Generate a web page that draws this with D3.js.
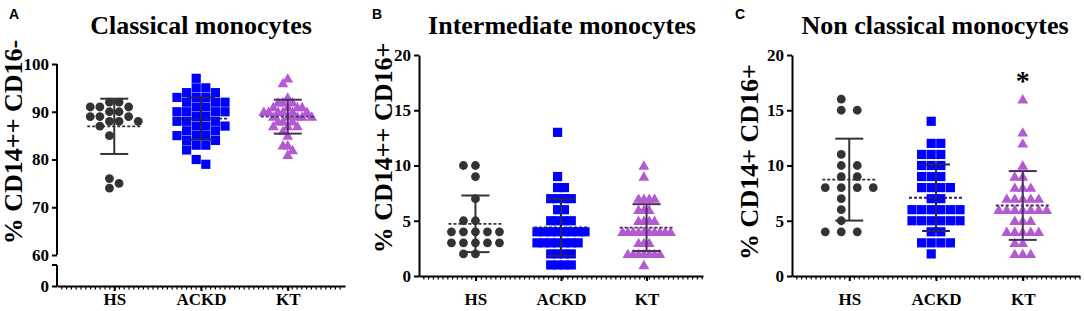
<!DOCTYPE html>
<html>
<head>
<meta charset="utf-8">
<script src="https://cdn.jsdelivr.net/npm/d3@7"></script>
<style>
  body { margin: 0; background: #fff; }
  svg { display: block; }
  text { font-family: "Liberation Serif", "DejaVu Serif", "Noto Serif", "Times New Roman", Times, serif; font-weight: bold; fill: #000; }
  text.letter { font-family: "Liberation Sans", Arial, sans-serif; }
</style>
</head>
<body>
<div id="chart"></div>
<script>
// groups along the x axis
const categories = ["HS", "ACKD", "KT"];

// A - classical monocytes, % CD14++ CD16-
const classicalHS = [92, 92, 91, 91, 91, 90, 90, 89, 89, 89, 88, 88, 88, 87, 85, 76, 75, 74];
const classicalACKD = [97, 95, 95, 94, 94, 93, 93, 93, 92, 92, 92, 91, 91, 90, 90, 90, 90, 89, 89,
  88, 88, 88, 87, 87, 87, 86, 86, 85, 85, 85, 84, 84, 83, 83, 82, 80, 79];
const classicalKT = [97, 96, 93, 92, 92, 92, 91, 91, 91, 91, 90, 90, 90, 90, 90, 90, 89, 89, 89, 89, 89,
  88, 88, 88, 87, 87, 87, 86, 85, 83, 83, 82, 81];

// B - intermediate monocytes, % CD14++ CD16+
const intermediateHS = [10, 10, 9, 7, 5, 5, 4, 4, 4, 4, 4, 3, 3, 3, 3, 3, 2, 2];
const intermediateACKD = [13, 9, 8, 8, 7, 7, 7, 7, 6, 6, 5, 5, 5, 5, 4, 4, 4, 4, 4, 4, 4, 4,
  3, 3, 3, 3, 3, 3, 3, 2, 2, 2, 2, 1, 1, 1, 1];
const intermediateKT = [10, 9, 7, 7, 7, 7, 6, 6, 6, 5, 5, 5, 5, 4, 4, 4, 4, 4, 4, 4, 4, 4, 4,
  3, 3, 3, 2, 2, 2, 2, 2, 2, 2, 1];

// C - non classical monocytes, % CD14+ CD16+
const nonClassicalHS = [16, 15, 15, 11, 10, 10, 9, 9, 8, 8, 8, 8, 7, 6, 5, 4, 4, 4];
const nonClassicalACKD = [14, 12, 12, 11, 11, 11, 10, 10, 10, 9, 9, 9, 8, 8, 8, 8, 7, 7,
  6, 6, 6, 6, 6, 6, 5, 5, 5, 5, 5, 5, 4, 4, 3, 3, 3, 3, 2];
const nonClassicalKT = [16, 13, 12, 10, 9, 9, 8, 8, 8, 7, 7, 7, 7, 7, 6, 6, 6, 6, 6, 6, 6,
  5, 5, 5, 4, 4, 4, 4, 4, 3, 3, 2, 2, 2];

// significance marks per group (panel C only)
const nonClassicalStars = ["", "", "*"];
const starLevel = 18;

// text
const panelLetters = ["A", "B", "C"];
const panelTitles = ["Classical monocytes", "Intermediate monocytes", "Non classical monocytes"];
const yLabels = ["% CD14++ CD16-", "% CD14++ CD16+", "% CD14+ CD16+"];
const ticksClassical = [0, 60, 70, 80, 90, 100];
const ticksSmall = [0, 5, 10, 15, 20];

const W = 1084, H = 311;
const serif = '"Liberation Serif", "DejaVu Serif", "Noto Serif", "Times New Roman", Times, serif';

// look of each group
const groupStyle = [
  {shape: "circle", fill: "#333333", bar: "#333333"},
  {shape: "square", fill: "#0000ff", bar: "#22226e"},
  {shape: "triangle", fill: "#b35ad3", bar: "#4d2c62"}
];

const panels = [
  {letter: panelLetters[0], title: panelTitles[0], ylabel: yLabels[0], groups: [classicalHS, classicalACKD, classicalKT],
   ticks: ticksClassical, domain: [0, 60, 100], range: [286, 255, 64], broken: true, stars: null,
   x0: 57, x1: 345, titleX: 201, labelX: 22, labelY: 142, letterX: 9},
  {letter: panelLetters[1], title: panelTitles[1], ylabel: yLabels[1], groups: [intermediateHS, intermediateACKD, intermediateKT],
   ticks: ticksSmall, domain: [0, 20], range: [276, 55], broken: false, stars: null,
   x0: 419, x1: 703, titleX: 562, labelX: 392, labelY: 148, letterX: 372},
  {letter: panelLetters[2], title: panelTitles[2], ylabel: yLabels[2], groups: [nonClassicalHS, nonClassicalACKD, nonClassicalKT],
   ticks: ticksSmall, domain: [0, 20], range: [276, 55], broken: false, stars: nonClassicalStars,
   x0: 792, x1: 1080, titleX: 935, labelX: 758, labelY: 162, letterX: 735}
];

const svg = d3.select("#chart").append("svg")
  .attr("width", W)
  .attr("height", H);

// spread points of one group over a fixed number of columns (prism-like scatter)
function swarm(values, cx, y, gap) {
  const sorted = values.slice().sort((a, b) => b - a);
  for (let k = 1; k < 40; k++) {
    const mid = (k - 1) / 2;
    const order = d3.range(k).sort((a, b) => Math.abs(a - mid) - Math.abs(b - mid) || a - b);
    const slots = d3.range(k).map(() => []);
    const placed = [];
    let ok = true;
    for (const v of sorted) {
      const py = y(v);
      const j = order.find(s => slots[s].every(q => Math.abs(q - py) >= gap));
      if (j === undefined) { ok = false; break; }
      slots[j].push(py);
      placed.push({value: v, slot: j});
    }
    if (ok) {
      const step = k > 1 ? Math.min(48 / (k - 1), 17) : 0;
      return placed.map(p => ({value: p.value, x: cx + (p.slot - mid) * step}));
    }
  }
  return [];
}

function marker(sel, shape, fill) {
  if (shape === "circle") {
    sel.append("circle").attr("r", 4.4).attr("fill", fill);
  } else if (shape === "square") {
    sel.append("rect").attr("x", -4.6).attr("y", -4.6).attr("width", 9.2).attr("height", 9.2).attr("fill", fill);
  } else {
    sel.append("path").attr("d", "M0,-5.2L5.4,4.2L-5.4,4.2Z").attr("fill", fill);
  }
}

panels.forEach(p => {
  const g = svg.append("g");

  const x = d3.scalePoint().domain(categories).range([p.x0, p.x1]).padding(0.66);
  const y = d3.scaleLinear().domain(p.domain).range(p.range);
  const yBottom = p.range[0];

  // letter + title
  g.append("text").attr("class", "letter")
    .attr("x", p.letterX).attr("y", 19)
    .style("font-size", "14px")
    .text(p.letter);
  g.append("text")
    .attr("x", p.titleX).attr("y", 34)
    .attr("text-anchor", "middle")
    .style("font-family", serif)
    .style("font-size", "26px")
    .text(p.title);

  // y label
  g.append("text")
    .attr("transform", `translate(${p.labelX},${p.labelY}) rotate(-90)`)
    .attr("text-anchor", "middle")
    .style("font-family", serif)
    .style("font-size", "26px")
    .text(p.ylabel);

  // y axis
  const yAxis = g.append("g")
    .attr("transform", `translate(${p.x0},0)`)
    .call(d3.axisLeft(y).tickValues(p.ticks).tickSize(5).tickSizeOuter(0).tickPadding(3));
  yAxis.attr("font-family", null);
  yAxis.selectAll("text").style("font-size", "17px").style("font-family", serif);
  yAxis.selectAll("line").attr("stroke", "#000").attr("stroke-width", 2);
  if (p.broken) {
    yAxis.select(".domain").remove();
    yAxis.append("line").attr("x1", 0).attr("x2", 0).attr("y1", y(100)).attr("y2", y(60))
      .attr("stroke", "#000").attr("stroke-width", 2);
    yAxis.append("line").attr("x1", 0).attr("x2", 0).attr("y1", y(60) + 10).attr("y2", yBottom)
      .attr("stroke", "#000").attr("stroke-width", 2);
    yAxis.append("line").attr("x1", -5).attr("x2", 0).attr("y1", y(60) + 10).attr("y2", y(60) + 10)
      .attr("stroke", "#000").attr("stroke-width", 2);
  } else {
    yAxis.select(".domain").attr("stroke", "#000").attr("stroke-width", 2);
  }

  // x axis
  const xAxis = g.append("g")
    .attr("transform", `translate(0,${yBottom})`)
    .call(d3.axisBottom(x).tickSize(5).tickSizeOuter(0));
  xAxis.attr("font-family", null);
  xAxis.select(".domain").attr("stroke", "#000").attr("stroke-width", 2);
  xAxis.selectAll("line").attr("stroke", "#000").attr("stroke-width", 2);
  xAxis.selectAll("text")
    .attr("y", 305 - yBottom).attr("dy", null)
    .style("font-size", "17px").style("font-family", serif);
  // small minor ticks under the x axis
  xAxis.append("g").selectAll("line")
    .data(d3.range(p.x0 + 4.8, p.x1, 4.8))
    .join("line")
    .attr("x1", d => d).attr("x2", d => d)
    .attr("y1", 1).attr("y2", 3.5)
    .attr("stroke", "#000").attr("stroke-width", 1.2);

  // points, then SD bars and dashed mean on top
  p.groups.forEach((vals, gi) => {
    const st = groupStyle[gi];
    const cx = x(categories[gi]);
    const pts = swarm(vals, cx, y, 9);

    g.append("g").selectAll("g")
      .data(pts)
      .join("g")
      .attr("transform", d => `translate(${d.x},${y(d.value)})`)
      .each(function() { marker(d3.select(this), st.shape, st.fill); });

    const m = d3.mean(vals);
    const sd = d3.deviation(vals);
    const bar = g.append("g").attr("stroke", st.bar).attr("stroke-width", 2).attr("fill", "none");
    bar.append("line").attr("x1", cx).attr("x2", cx).attr("y1", y(m + sd)).attr("y2", y(m - sd));
    bar.append("line").attr("x1", cx - 14).attr("x2", cx + 14).attr("y1", y(m + sd)).attr("y2", y(m + sd));
    bar.append("line").attr("x1", cx - 14).attr("x2", cx + 14).attr("y1", y(m - sd)).attr("y2", y(m - sd));
    bar.append("line").attr("x1", cx - 27).attr("x2", cx + 27).attr("y1", y(m)).attr("y2", y(m))
      .attr("stroke-dasharray", "3,2").attr("stroke-width", 1.8);

    if (p.stars && p.stars[gi]) {
      g.append("text")
        .attr("x", cx).attr("y", y(starLevel) + 13)
        .attr("text-anchor", "middle")
        .style("font-family", serif)
        .style("font-size", "28px")
        .text(p.stars[gi]);
    }
  });
});
</script>
</body>
</html>
